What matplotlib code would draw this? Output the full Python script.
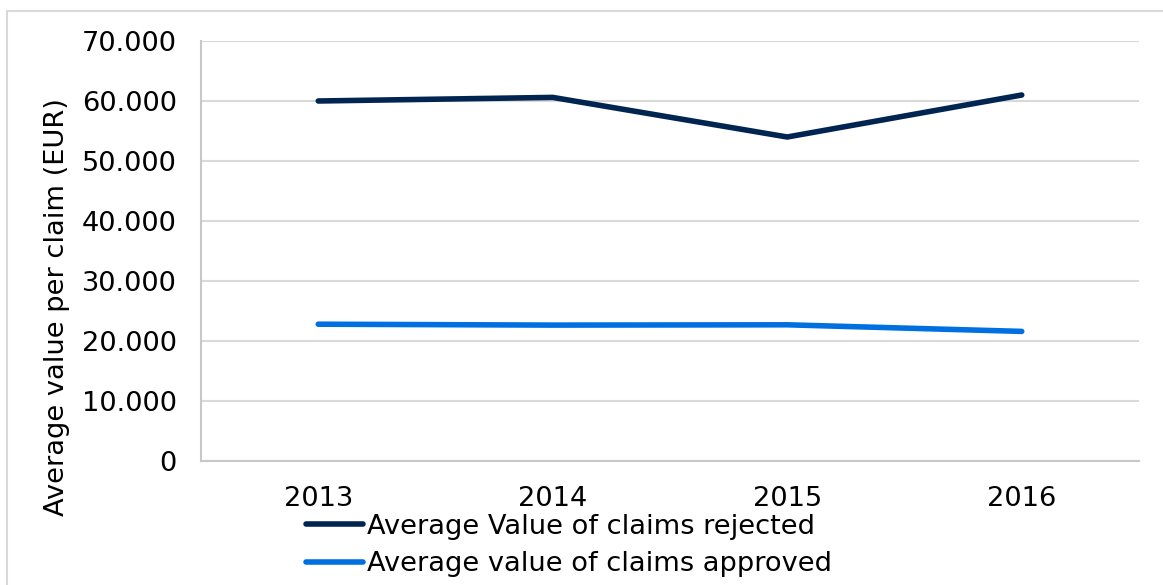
import matplotlib
matplotlib.use("Agg")
import matplotlib.pyplot as plt
from matplotlib.patches import Rectangle
from matplotlib.ticker import FuncFormatter

years = ["2013", "2014", "2015", "2016"]
rejected = [60000, 60600, 54000, 61000]
approved = [22800, 22650, 22700, 21600]
series_labels = ["Average Value of claims rejected", "Average value of claims approved"]
ylabel = "Average value per claim (EUR)"

W, H = 1163, 585
FS = 19.6
fig = plt.figure(figsize=(W / 100, H / 100), dpi=100)
plt.rcParams['font.family'] = ['DejaVu Sans']

# outer frame
fig.patches.append(Rectangle((7 / W, -0.1), 1.2, (H - 11) / H + 0.1, transform=fig.transFigure,
                             fill=False, edgecolor="#D9D9D9", linewidth=1.5))

ax = fig.add_axes([201 / W, 1 - 461 / H, (1139 - 201) / W, (461 - 41) / H])
x = list(range(len(years)))
l1, = ax.plot(x, rejected, color="#002550", linewidth=4.0, solid_capstyle="round", label=series_labels[0])
l2, = ax.plot(x, approved, color="#0070E0", linewidth=4.0, solid_capstyle="round", label=series_labels[1])

ax.set_xlim(-0.5, 3.5)
ax.set_ylim(0, 70000)
ax.set_yticks(range(0, 70001, 10000))
ax.yaxis.set_major_formatter(FuncFormatter(lambda v, p: "0" if v == 0 else f"{int(v):,}".replace(",", ".")))
ax.set_xticks(x)
ax.set_xticklabels(years)
ax.grid(axis="y", color="#D9D9D9", linewidth=1.5)
ax.set_axisbelow(True)
for s in ["top", "right"]:
    ax.spines[s].set_visible(False)
for s in ["left", "bottom"]:
    ax.spines[s].set_color("#C8C8C8")
    ax.spines[s].set_linewidth(1.5)
ax.tick_params(axis="both", length=0, labelsize=FS, colors="black")
ax.tick_params(axis="x", pad=18)
ax.tick_params(axis="y", pad=17.5)
ax.set_ylabel(ylabel, fontsize=FS)
ax.yaxis.set_label_coords(-131 / (1139 - 201), 0.367)

fig.legend(handles=[l1, l2], loc="upper left", bbox_to_anchor=(306 / W, 1 - 514 / H),
           frameon=False, fontsize=FS, handlelength=2.1, handletextpad=0.15,
           labelspacing=0.42, borderaxespad=0, borderpad=0)

fig.savefig("out.png", dpi=100)
